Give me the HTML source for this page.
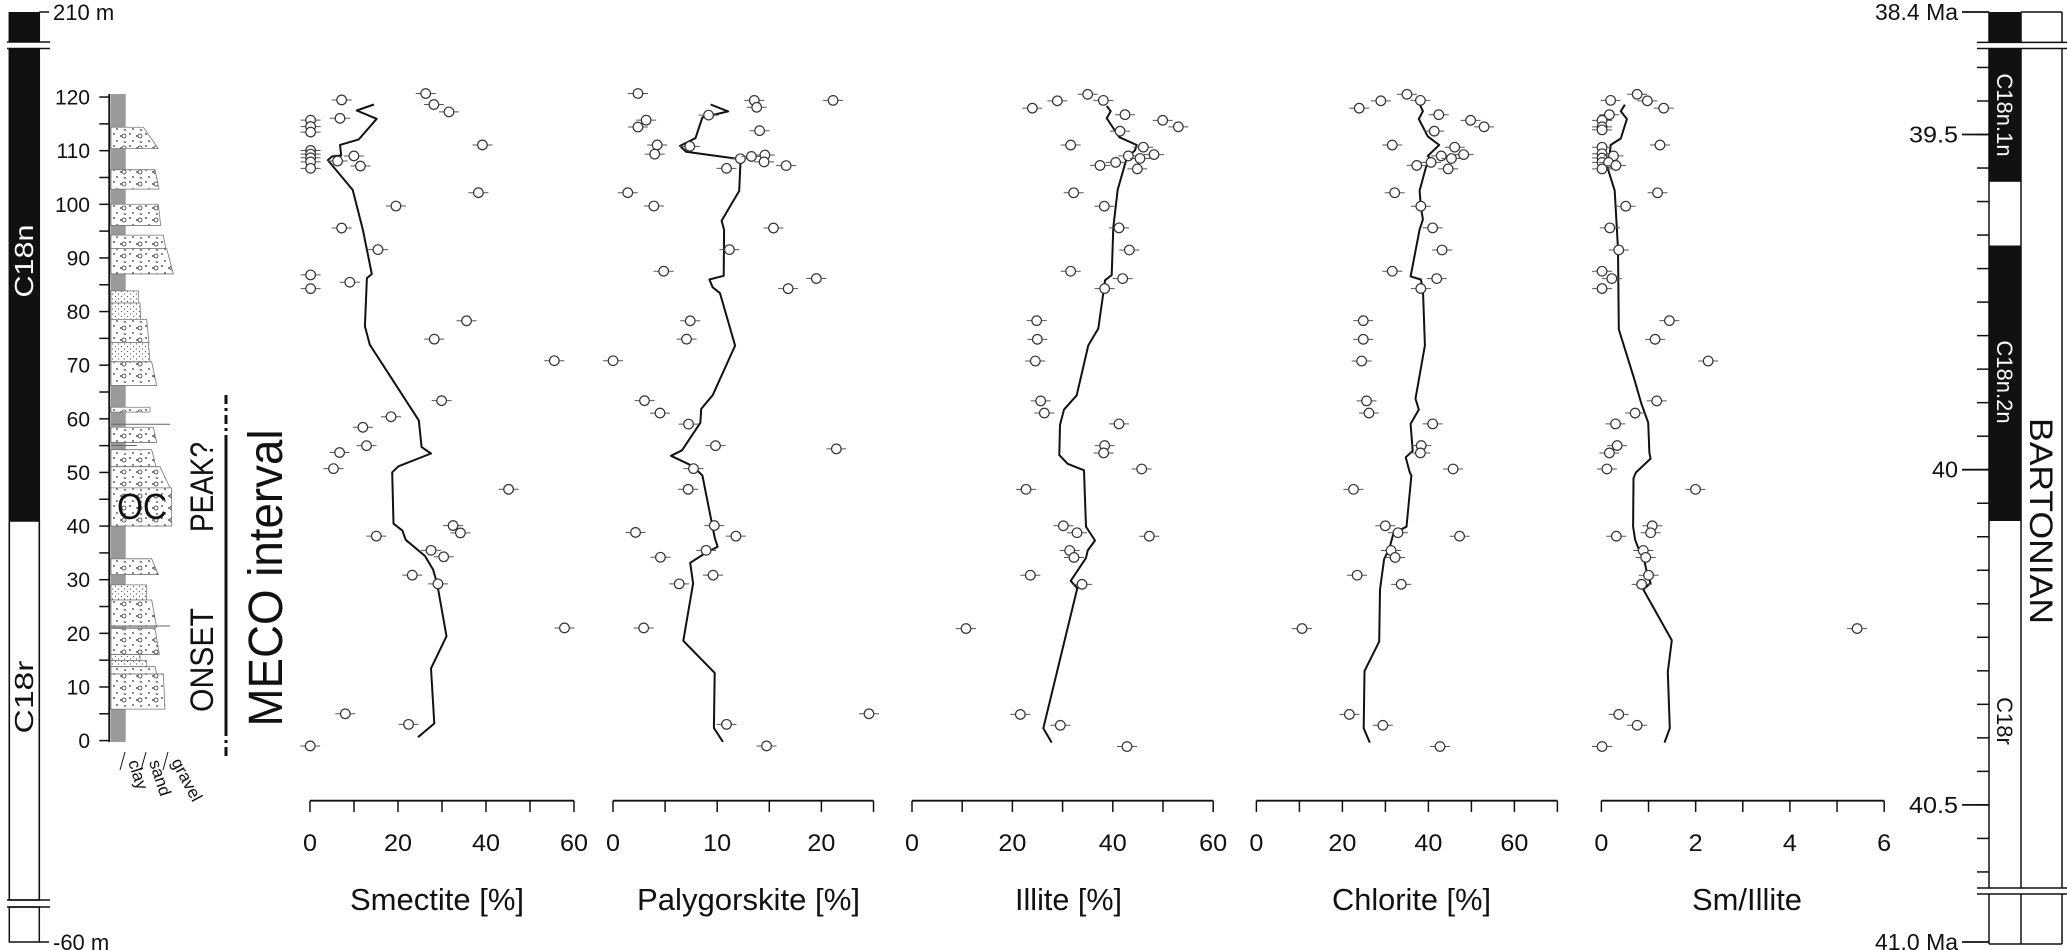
<!DOCTYPE html>
<html><head><meta charset="utf-8"><style>
html,body{margin:0;padding:0;background:#fff;}
svg{display:block;}
text{font-family:"Liberation Sans",Arial,sans-serif;}
.n{font-family:"Liberation Sans Narrow","Liberation Sans",Arial,sans-serif;}
</style></head><body>
<svg id="s" xmlns="http://www.w3.org/2000/svg" width="2067" height="950" viewBox="0 0 2067 950">
<defs>
<pattern id="pg" width="16" height="12" patternUnits="userSpaceOnUse">
<rect width="16" height="12" fill="#fff"/>
<circle cx="2" cy="2" r="0.9" fill="#333"/><circle cx="9" cy="4" r="0.9" fill="#333"/><circle cx="5" cy="9" r="0.9" fill="#333"/><circle cx="13" cy="10" r="0.9" fill="#333"/>
<circle cx="12" cy="4" r="2" fill="none" stroke="#333" stroke-width="0.8"/>
</pattern>
<pattern id="ps" width="6" height="5" patternUnits="userSpaceOnUse">
<rect width="6" height="5" fill="#fff"/><circle cx="1.5" cy="1.5" r="0.6" fill="#555"/><circle cx="4.5" cy="4" r="0.6" fill="#555"/>
</pattern>
</defs>
<g id="g"></g>
</svg>
<script>
var g=document.getElementById('g'),NS='http://www.w3.org/2000/svg';
function el(t,a,txt){var e=document.createElementNS(NS,t);for(var k in a)e.setAttribute(k,a[k]);if(txt!=null)e.textContent=txt;g.appendChild(e);return e;}
function L(x1,y1,x2,y2,w,c,extra){var a={x1:x1,y1:y1,x2:x2,y2:y2,stroke:c||'#111','stroke-width':w||1.5};for(var k in extra)a[k]=extra[k];return el('line',a);}
function T(x,y,s,fs,anchor,cls,extra){var a={x:x,y:y,'font-size':fs,'text-anchor':anchor||'start',fill:'#111'};if(cls)a['class']=cls;for(var k in extra)a[k]=extra[k];return el('text',a,s);}
var Z2=function(p){return [280+p[0]/2.45,60+p[1]/2.178]};
var Z4=function(p){return [940+p[0]/3,80+p[1]/2.306]};
var Z5=function(p){return [1280+p[0]/2.45,80+p[1]/2.306]};
function line(pts,f){el('polyline',{points:pts.map(function(p){var q=f(p);return q[0].toFixed(1)+','+q[1].toFixed(1)}).join(' '),fill:'none',stroke:'#111','stroke-width':2,'stroke-linejoin':'round'});}
function dots(pts,f){pts.forEach(function(p){var q=f(p);L(q[0]-10,q[1],q[0]+10,q[1],1,'#555');el('circle',{cx:q[0],cy:q[1],r:4.8,fill:'#fff',stroke:'#333','stroke-width':1.2});});}
var SA={lengthAdjust:'spacingAndGlyphs'};
function ext(o){var r={lengthAdjust:'spacingAndGlyphs'};for(var k in o)r[k]=o[k];return r;}

/* ---------- Left chron column ---------- */
el('rect',{x:9.3,y:12,width:30,height:30,fill:'#111'});
el('rect',{x:9.3,y:48.5,width:30,height:472.5,fill:'#111'});
el('rect',{x:9.3,y:521,width:30,height:379,fill:'#fff',stroke:'#111','stroke-width':1.5});
el('rect',{x:9.3,y:907,width:30,height:35,fill:'#fff',stroke:'#111','stroke-width':1.5});
L(9.3,12,9.3,42);L(39.3,12,39.3,42);L(9.3,48.5,9.3,900);L(39.3,48.5,39.3,900);
L(7,42,50,42,1.5);L(7,48.5,50,48.5,1.5);L(7,900,50,900,1.5);L(7,907,50,907,1.5);
L(39.3,12,49,12,1.5);L(39.3,942,49,942,1.5);
T(53,20,'210 m',22);T(53,950,'-60 m',22);
T(0,0,'C18n',26,'middle','n',ext({transform:'translate(33,261) rotate(-90)',fill:'#fff',style:'fill:#fff',textLength:73}));
T(0,0,'C18r',26,'middle','n',ext({transform:'translate(33,697) rotate(-90)',textLength:73}));

/* ---------- Depth axis & lithology ---------- */
function yD(d){return 740.6-5.363*d;}
el('rect',{x:111,y:94,width:14.7,height:648,fill:'#9a9a9a'});
var boxes=[[210,245,430,475,'g'],[280,312,465,477,'g'],[337,372,475,482,'g'],[388,410,490,497,'g'],[410,452,500,520,'g'],[480,500,415,415,'s'],[500,527,420,422,'s'],[527,565,440,447,'g'],[565,597,445,450,'s'],[597,636,455,470,'g'],[672,680,450,450,'g'],[705,730,460,470,'g'],[742,770,455,468,'g'],[770,805,480,510,'g'],[805,868,515,515,'g'],[922,948,455,475,'g'],[965,990,440,440,'s'],[990,1035,455,470,'g'],[1037,1080,465,478,'g'],[1080,1090,420,420,'s'],[1090,1100,440,440,'s'],[1100,1112,465,470,'g'],[1112,1170,490,495,'g']];
boxes.forEach(function(b){var y1=b[0]/1.65,y2=b[1]/1.65,r1=b[2]/3,r2=b[3]/3;
el('polygon',{points:'111,'+y1+' '+r1+','+y1+' '+r2+','+y2+' 111,'+y2,fill:'url(#p'+b[4]+')',stroke:'#777','stroke-width':0.8});});
[[700,510],[1033,510],[735,410]].forEach(function(t){L(111,t[0]/1.65,t[1]/3,t[0]/1.65,1,'#666');});
T(142,519,'OC',36,'middle',null,ext({textLength:50}));
L(109.3,94,109.3,742,2);
for(var d=0;d<=120;d+=5){L(99.3,yD(d),109.3,yD(d),1.5);}
for(var d=0;d<=120;d+=10){T(90,yD(d)+7.5,String(d),21,'end');}
L(125,752,120,770,1);L(146,752,141,770,1);L(168,752,163,770,1);
T(0,0,'clay',17,'start','n',{transform:'translate(128,762) rotate(72)'});
T(0,0,'sand',17,'start','n',{transform:'translate(149,762) rotate(72)'});
T(0,0,'gravel',17,'start','n',{transform:'translate(171,762) rotate(62)'});

/* MECO annotations */
L(226,395,226,442,3,'#111',{'stroke-dasharray':'9,4,3,4'});
L(226,442,226,727,3);
L(226,727,226,760,3,'#111',{'stroke-dasharray':'9,4,3,4'});
T(0,0,'PEAK?',32,'middle','n',ext({transform:'translate(213,487) rotate(-90)',textLength:90}));
T(0,0,'ONSET',32,'middle','n',ext({transform:'translate(213,660) rotate(-90)',textLength:104}));
T(0,0,'MECO interval',48,'middle','n',ext({transform:'translate(282,578) rotate(-90)',textLength:297}));

/* ---------- Bottom axes ---------- */
function axis(x0,per,max,step,labs,title,tx1,tx2){var x1=x0+per*max;L(x0,800.7,x1,800.7,1.8);
for(var v=0;v<=max+1e-9;v+=step){L(x0+per*v,800.7,x0+per*v,812,1.5);}
labs.forEach(function(v){var s=String(v);T(x0+per*v,851,s,24,'middle','n',ext({textLength:s.length*14}));});
T((tx1+tx2)/2,910,title,31,'middle','n',ext({textLength:tx2-tx1}));}
axis(310,4.4,60,10,[0,20,40,60],'Smectite [%]',350,524);
axis(613,10.42,25,5,[0,10,20],'Palygorskite [%]',637,860);
axis(912,5.02,60,10,[0,20,40,60],'Illite [%]',1015,1122);
axis(1256.4,4.3,70,10,[0,20,40,60],'Chlorite [%]',1332,1491);
axis(1601.4,47.13,6,1,[0,2,4,6],'Sm/Illite',1692,1802);

/* ---------- Data: Smectite ---------- */
line([[230,97],[188,110],[237,128],[193,173],[147,185],[150,208],[128,210],[117,218],[178,283],[203,370],[225,466],[213,475],[208,580],[220,620],[340,785],[347,843],[370,857],[290,885],[275,898],[278,1010],[300,1025],[308,1045],[355,1080],[375,1110],[385,1140],[408,1255],[370,1325],[378,1445],[338,1475]],Z2);
dots([[151,87],[357,73],[377,97],[414,113],[147,127],[75,131],[75,145],[75,157],[496,185],[75,197],[75,205],[75,213],[75,222],[181,209],[141,220],[197,231],[75,236],[486,289],[284,318],[151,366],[240,413],[75,468],[171,484],[75,498],[457,568],[378,608],[672,655],[396,742],[272,777],[203,800],[212,840],[146,855],[131,890],[560,935],[424,1014],[442,1030],[236,1037],[370,1068],[401,1082],[324,1122],[387,1141],[697,1237],[160,1424],[315,1447],[74,1494]],Z2);
/* Palygorskite */
line([[1055,97],[1098,112],[1035,125],[1018,170],[980,187],[995,200],[1120,215],[1128,225],[1125,285],[1082,350],[1088,370],[1087,470],[1052,478],[1060,495],[1078,508],[1115,622],[1060,730],[1032,760],[1030,790],[985,850],[958,862],[1012,885],[1035,905],[1065,1040],[1072,1060],[1040,1075],[1005,1095],[1012,1140],[988,1265],[1065,1335],[1063,1455],[1085,1485]],Z2);
dots([[877,73],[1162,88],[1355,88],[1168,103],[1050,120],[897,131],[877,146],[1175,154],[924,185],[918,205],[1004,188],[1128,215],[1155,210],[1188,207],[1186,222],[1240,230],[1094,236],[852,289],[916,318],[1209,366],[1101,413],[940,460],[1314,476],[1245,498],[1005,568],[996,608],[816,655],[893,742],[931,769],[1001,793],[1067,840],[1363,847],[1013,890],[1000,935],[1064,1014],[871,1029],[1117,1037],[932,1083],[1044,1068],[1061,1122],[978,1141],[891,1237],[1443,1424],[1094,1447],[1192,1494]],Z2);
/* Illite */
line([[500,60],[512,72],[500,88],[538,132],[590,150],[585,162],[560,180],[533,253],[520,340],[515,450],[495,462],[492,480],[475,573],[445,612],[410,727],[372,760],[360,795],[358,865],[383,885],[432,900],[438,1030],[465,1062],[443,1085],[438,1102],[392,1155],[412,1172],[310,1495],[335,1528]],Z4);
dots([[277,65],[352,48],[443,33],[490,47],[555,80],[668,93],[715,108],[540,118],[392,150],[610,155],[642,172],[565,175],[600,181],[527,190],[480,197],[592,205],[401,260],[493,291],[537,341],[568,392],[392,441],[548,458],[494,481],[290,555],[292,598],[286,648],[302,740],[313,768],[537,793],[494,843],[491,860],[605,897],[258,944],[370,1028],[411,1044],[628,1052],[389,1085],[402,1101],[271,1142],[426,1163],[78,1265],[241,1463],[361,1488],[561,1537]],Z4);
/* Chlorite */
line([[342,55],[350,72],[340,90],[362,130],[390,150],[362,175],[372,185],[358,200],[342,255],[345,290],[350,322],[342,345],[320,453],[345,460],[350,480],[355,612],[332,735],[340,760],[320,793],[325,855],[308,870],[318,905],[322,912],[310,1030],[278,1045],[268,1080],[255,1105],[245,1175],[243,1295],[207,1363],[205,1495],[220,1528]],Z5);
dots([[194,65],[247,48],[311,33],[344,47],[389,80],[467,93],[500,108],[378,118],[275,150],[428,155],[450,172],[395,175],[420,181],[370,190],[335,197],[412,205],[281,260],[345,291],[374,341],[397,392],[275,441],[384,458],[345,481],[204,555],[204,598],[200,648],[212,740],[218,768],[374,793],[346,843],[344,860],[424,897],[180,944],[258,1028],[289,1044],[440,1052],[272,1085],[282,1101],[189,1142],[297,1163],[54,1265],[170,1463],[252,1488],[392,1537]],Z5);
/* Sm/Illite */
line([[845,57],[835,72],[850,90],[835,135],[810,150],[808,170],[800,195],[820,255],[828,390],[830,575],[868,690],[885,745],[902,790],[905,860],[908,873],[872,905],[866,918],[865,1030],[870,1060],[880,1085],[893,1110],[900,1140],[908,1160],[890,1175],[960,1292],[950,1365],[955,1495],[942,1528]],Z5);
dots([[810,47],[875,33],[900,48],[940,65],[807,80],[789,93],[789,108],[789,115],[931,150],[789,155],[789,170],[789,180],[817,175],[789,190],[805,190],[823,197],[789,205],[925,260],[847,291],[808,341],[830,392],[789,441],[813,458],[789,481],[954,555],[919,598],[1049,648],[923,740],[870,768],[822,793],[826,843],[807,860],[801,897],[1018,944],[912,1028],[908,1044],[824,1052],[890,1085],[896,1101],[903,1142],[886,1163],[1414,1265],[830,1463],[875,1488],[789,1537]],Z5);

/* ---------- Right age column ---------- */
var xa=1989,xb=2021,xc=2062;
el('rect',{x:xa,y:12,width:xb-xa,height:30.4,fill:'#111'});
el('rect',{x:xa,y:48.5,width:xb-xa,height:133.3,fill:'#111'});
el('rect',{x:xa,y:245.5,width:xb-xa,height:275.5,fill:'#111'});
[xa,xb,xc].forEach(function(x){L(x,12,x,42.4,1.5);L(x,48.5,x,888,1.5);L(x,894,x,944,1.5);});
L(xb,12,xc,12,1.5);L(xa,944,xc,944,1.5);
[42.4,48.5,888,894].forEach(function(y){L(1977,y,2067,y,1.5);});
function yA(a){return 134.5+(a-39.5)*670.4;}
for(var i=0;i<=24;i++){var a=39.4+i*0.05,y=yA(a);L(1977,y,xa,y,1.5);}
[[12,'38.4 Ma',83],[yA(39.5),'39.5',49],[yA(40),'40',26],[yA(40.5),'40.5',49],[942,'41.0 Ma',83]].forEach(function(t){L(1962,t[0],xa,t[0],1.8);T(1958,t[0]+8,t[1],23,'end','n',ext({textLength:t[2]}));});
T(0,0,'C18n.1n',22,'middle','n',{transform:'translate(1997,115) rotate(90)',fill:'#fff',style:'fill:#fff'});
T(0,0,'C18n.2n',22,'middle','n',{transform:'translate(1997,382) rotate(90)',fill:'#fff',style:'fill:#fff'});
T(0,0,'C18r',22,'middle','n',{transform:'translate(1997,721) rotate(90)'});
T(0,0,'BARTONIAN',32,'middle','n',ext({transform:'translate(2030,521) rotate(90)',textLength:206}));
</script>
</body></html>
